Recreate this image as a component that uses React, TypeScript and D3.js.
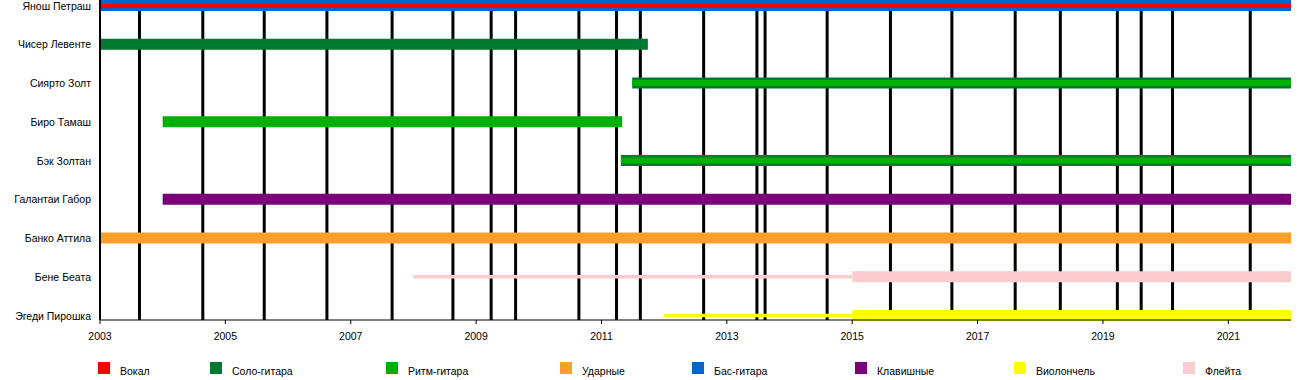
import React from 'react';
import * as d3 from 'd3';

const members = [
  'Янош Петраш',
  'Чисер Левенте',
  'Сиярто Золт',
  'Биро Тамаш',
  'Бэк Золтан',
  'Галантаи Габор',
  'Банко Аттила',
  'Бене Беата',
  'Эгеди Пирошка',
];

const roles = ['Вокал', 'Соло-гитара', 'Ритм-гитара', 'Ударные', 'Бас-гитара', 'Клавишные', 'Виолончель', 'Флейта'];
const roleColors = ['#ff0000', '#007a33', '#00b000', '#f9a02a', '#0066cc', '#7a007a', '#ffff00', '#f9cdcf'];

// member, role, from, to, style (full / inner / mid / thin)
const periods: [string, string, number, number, string][] = [
  ['Янош Петраш', 'Бас-гитара', 2003, 2022, 'full'],
  ['Янош Петраш', 'Вокал', 2003, 2022, 'inner'],
  ['Чисер Левенте', 'Соло-гитара', 2003, 2011.74, 'full'],
  ['Сиярто Золт', 'Соло-гитара', 2011.49, 2022, 'full'],
  ['Сиярто Золт', 'Ритм-гитара', 2011.49, 2022, 'mid'],
  ['Биро Тамаш', 'Ритм-гитара', 2004, 2011.33, 'full'],
  ['Бэк Золтан', 'Соло-гитара', 2011.31, 2022, 'full'],
  ['Бэк Золтан', 'Ритм-гитара', 2011.31, 2022, 'mid'],
  ['Галантаи Габор', 'Клавишные', 2004, 2022, 'full'],
  ['Банко Аттила', 'Ударные', 2003, 2022, 'full'],
  ['Бене Беата', 'Флейта', 2008, 2015, 'thin'],
  ['Бене Беата', 'Флейта', 2015, 2022, 'full'],
  ['Эгеди Пирошка', 'Виолончель', 2012, 2015, 'thin'],
  ['Эгеди Пирошка', 'Виолончель', 2015, 2022, 'full'],
];

const eventYears = [
  2003.63, 2004.64, 2005.62, 2006.62, 2007.66, 2008.63, 2009.24, 2009.63, 2010.64, 2011.24, 2011.62,
  2012.63, 2013.48, 2013.61, 2014.6, 2015.61, 2016.59, 2017.6, 2018.32, 2019.23, 2019.61, 2020.11, 2021.35,
];

const tickYears = [2003, 2005, 2007, 2009, 2011, 2013, 2015, 2017, 2019, 2021];

const FONT = '"Liberation Sans", Arial, sans-serif';
const legendX = [98, 210, 386, 560, 692, 855, 1014, 1183];

export default function App() {
  const x = d3.scaleLinear().domain([2003, 2022]).range([100, 1291]);
  const y = d3.scalePoint<string>().domain(members).range([5.5, 315.5]);
  const color = d3.scaleOrdinal<string, string>().domain(roles).range(roleColors);
  const axisY = 320;
  const fs = 10.5;
  const heights: Record<string, number> = { full: 11, inner: 4, mid: 6, thin: 3.5 };

  return (
    <svg width={1300} height={380} style={{ position: 'absolute', left: 0, top: 0, background: '#fff' }} fontFamily={FONT}>
      <rect x={0} y={0} width={1300} height={380} fill="#fff" />
      {eventYears.map((yr, i) => (
        <line key={'e' + i} x1={x(yr)} x2={x(yr)} y1={0} y2={axisY} stroke="#000" strokeWidth={3} />
      ))}
      <line x1={100} x2={100} y1={0} y2={axisY} stroke="#000" strokeWidth={2} />
      {periods.map(([m, r, from, to, s], i) => {
        const h = heights[s];
        const cy = (y(m) as number) + (s === 'inner' ? 0.5 : 0);
        const x0 = Math.max(x(from), 101);
        return <rect key={'b' + i} x={x0} y={cy - h / 2} width={x(to) - x0} height={h} fill={color(r)} />;
      })}
      {members.map((m) => (
        <text key={m} x={91} y={y(m) as number} textAnchor="end" dominantBaseline="central" fontSize={fs} fill="#000">
          {m}
        </text>
      ))}
      <line x1={x(2003)} x2={x(2022)} y1={axisY} y2={axisY} stroke="#000" strokeWidth={1} />
      {tickYears.map((t) => (
        <g key={t}>
          <line x1={x(t)} x2={x(t)} y1={axisY} y2={axisY + 4} stroke="#000" strokeWidth={1} />
          <text x={x(t)} y={335.5} textAnchor="middle" dominantBaseline="central" fontSize={fs} fill="#000">
            {t}
          </text>
        </g>
      ))}
      {roles.map((r, i) => (
        <g key={r}>
          <rect x={legendX[i]} y={362} width={12} height={12} fill={color(r)} />
          <text x={legendX[i] + 22} y={370.5} dominantBaseline="central" fontSize={fs} fill="#000">
            {r}
          </text>
        </g>
      ))}
    </svg>
  );
}
